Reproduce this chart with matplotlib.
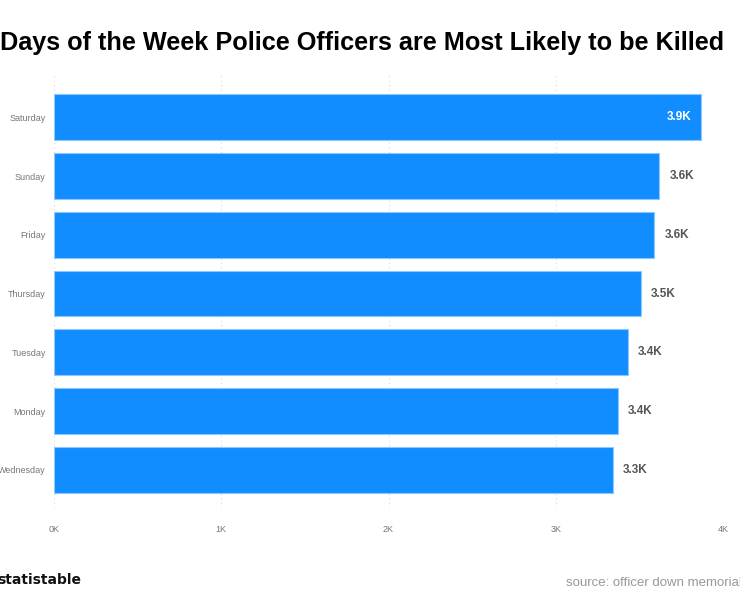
import matplotlib.pyplot as plt
from matplotlib.ticker import FuncFormatter

days = ["Saturday", "Sunday", "Friday", "Thursday", "Tuesday", "Monday", "Wednesday"]
deaths = [3870, 3620, 3590, 3510, 3430, 3370, 3340]
labels = ["3.9K", "3.6K", "3.6K", "3.5K", "3.4K", "3.4K", "3.3K"]

plt.rcParams['font.family'] = ['Liberation Sans', 'DejaVu Sans']

fig = plt.figure(figsize=(7.4, 6), dpi=100)
ax = fig.add_axes([54 / 740, 92 / 600, 669 / 740, 433 / 600])

ypos = list(range(len(days)))
ax.barh(ypos, deaths, height=0.78, color="#118DFF", edgecolor="#8cc8ff", linewidth=0.8, zorder=3)

for i, (v, lab) in enumerate(zip(deaths, labels)):
    if i == 0:
        ax.text(v - 60, i, lab, ha="right", va="center", color="white",
                fontsize=8.5, fontweight="bold", zorder=4)
    else:
        ax.text(v + 60, i, lab, ha="left", va="center", color="#555555",
                fontsize=8.5, fontweight="bold", zorder=4)

ax.set_yticks(ypos)
ax.set_yticklabels(days)
ax.set_ylim(6.65, -0.72)
ax.set_xlim(0, 4000)
ax.set_xticks([0, 1000, 2000, 3000, 4000])
ax.xaxis.set_major_formatter(FuncFormatter(lambda x, p: f"{int(x / 1000)}K"))
ax.tick_params(axis="both", length=0, labelsize=6.5, labelcolor="#777777")
ax.tick_params(axis="x", pad=12)
ax.tick_params(axis="y", pad=6)
ax.grid(axis="x", linestyle=(0, (1, 3)), color="#d9d9d9", linewidth=0.8, zorder=0)
for s in ax.spines.values():
    s.set_visible(False)

fig.text(0.489, 0.928, "Days of the Week Police Officers are Most Likely to be Killed",
         ha="center", va="center", fontsize=18.2, fontweight="bold", color="black")
fig.text(-0.004, 0.033, "statistable", ha="left", va="center", fontsize=10,
         fontweight="bold", color="#111111", family="DejaVu Sans")
fig.text(1.002, 0.028, "source: officer down memorial", ha="right", va="center",
         fontsize=9.5, color="#999999")

fig.savefig("out.png", dpi=100)
